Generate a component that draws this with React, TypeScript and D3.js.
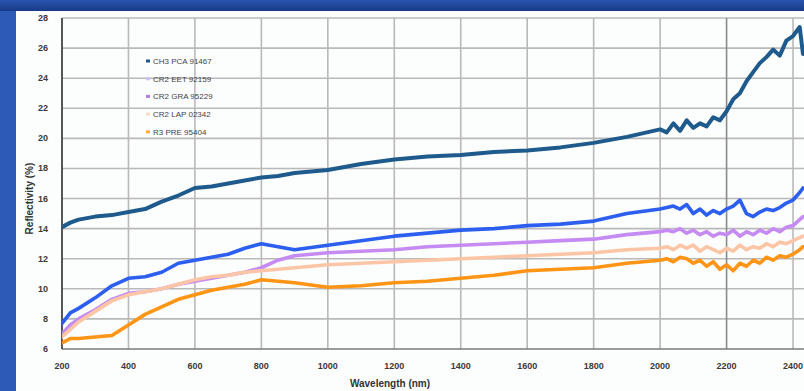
import * as d3 from "d3";

const wavelengths = [
  200, 225, 250, 300, 350, 400, 450, 500, 550, 600, 650, 700, 750, 800, 850, 900,
  1000, 1100, 1200, 1300, 1400, 1500, 1600, 1700, 1800, 1900, 2000,
  2020, 2040, 2060, 2080, 2100, 2120, 2140, 2160, 2180, 2200, 2220, 2240, 2260,
  2280, 2300, 2320, 2340, 2360, 2380, 2400, 2420, 2430,
];

const ch3Pca = [
  14.1, 14.4, 14.6, 14.8, 14.9, 15.1, 15.3, 15.8, 16.2, 16.7, 16.8, 17.0, 17.2, 17.4, 17.5, 17.7,
  17.9, 18.3, 18.6, 18.8, 18.9, 19.1, 19.2, 19.4, 19.7, 20.1, 20.6,
  20.4, 21.0, 20.5, 21.2, 20.7, 21.0, 20.8, 21.4, 21.2, 21.8, 22.6, 23.0, 23.8,
  24.4, 25.0, 25.4, 25.9, 25.5, 26.5, 26.8, 27.4, 25.6,
];
const cr2Eet = [
  7.7, 8.4, 8.7, 9.4, 10.2, 10.7, 10.8, 11.1, 11.7, 11.9, 12.1, 12.3, 12.7, 13.0, 12.8, 12.6,
  12.9, 13.2, 13.5, 13.7, 13.9, 14.0, 14.2, 14.3, 14.5, 15.0, 15.3,
  15.4, 15.5, 15.3, 15.6, 15.0, 15.3, 14.9, 15.2, 15.0, 15.3, 15.5, 15.9, 15.0,
  14.8, 15.1, 15.3, 15.2, 15.4, 15.7, 15.9, 16.4, 16.7,
];
const cr2Gra = [
  7.0, 7.6, 8.0, 8.6, 9.3, 9.7, 9.8, 10.0, 10.3, 10.5, 10.7, 10.9, 11.1, 11.4, 11.9, 12.2,
  12.4, 12.5, 12.6, 12.8, 12.9, 13.0, 13.1, 13.2, 13.3, 13.6, 13.8,
  13.9, 13.8, 14.0, 13.7, 13.9, 13.6, 13.8, 13.5, 13.7, 13.6, 13.9, 13.5, 13.8,
  13.6, 13.9, 13.7, 14.0, 13.8, 14.1, 14.2, 14.6, 14.8,
];
const cr2Lap = [
  6.8, 7.3, 7.8, 8.5, 9.2, 9.6, 9.8, 10.0, 10.3, 10.6, 10.8, 10.9, 11.1, 11.2, 11.3, 11.4,
  11.6, 11.7, 11.8, 11.9, 12.0, 12.1, 12.2, 12.3, 12.4, 12.6, 12.7,
  12.8, 12.6, 12.9, 12.7, 12.9, 12.5, 12.8, 12.6, 12.4, 12.7, 12.5, 12.9, 12.6,
  12.8, 12.7, 13.0, 12.8, 13.1, 13.0, 13.2, 13.4, 13.5,
];
const r3Pre = [
  6.4, 6.7, 6.7, 6.8, 6.9, 7.6, 8.3, 8.8, 9.3, 9.6, 9.9, 10.1, 10.3, 10.6, 10.5, 10.4,
  10.1, 10.2, 10.4, 10.5, 10.7, 10.9, 11.2, 11.3, 11.4, 11.7, 11.9,
  12.0, 11.8, 12.1, 12.0, 11.7, 11.9, 11.5, 11.8, 11.3, 11.6, 11.2, 11.7, 11.5,
  11.9, 11.7, 12.1, 11.9, 12.2, 12.1, 12.3, 12.6, 12.8,
];

const seriesNames = ["CH3 PCA 91467", "CR2 EET 92159", "CR2 GRA 95229", "CR2 LAP 02342", "R3 PRE 95404"];
const seriesValues = [ch3Pca, cr2Eet, cr2Gra, cr2Lap, r3Pre];
const seriesColors = ["#1f5a8c", "#2c5ff0", "#c58bf3", "#fcc6a6", "#ff9516"];
const legendMarkColors = ["#1f5a8c", "#c9c2f5", "#b07ae8", "#fbd9c6", "#ffb040"];

const xTicks = [200, 400, 600, 800, 1000, 1200, 1400, 1600, 1800, 2000, 2200, 2400];
const yTicks = [6, 8, 10, 12, 14, 16, 18, 20, 22, 24, 26, 28];

const W = 804;
const H = 391;

export default function App() {
  const x = d3.scaleLinear().domain([200, 2433]).range([62, 804]);
  const y = d3.scaleLinear().domain([6, 28]).range([349, 18]);

  const line = d3
    .line<number>()
    .x((_, i) => x(wavelengths[i]))
    .y((d) => y(d))
    .curve(d3.curveLinear);

  const font = "'Liberation Sans', Arial, sans-serif";

  return (
    <div style={{ position: "fixed", left: 0, top: 0 }}>
      <svg width={W} height={H} style={{ display: "block" }}>
        <defs>
          <clipPath id="plot">
            <rect x={62} y={10} width={742} height={340} />
          </clipPath>
          <linearGradient id="topband" x1="0" y1="0" x2="0" y2="1">
            <stop offset="0" stopColor="#2a55b0" />
            <stop offset="1" stopColor="#173a86" />
          </linearGradient>
        </defs>

        {/* slide frame */}
        <rect x={0} y={0} width={W} height={H} fill="#2c5ab6" />
        <rect x={0} y={0} width={W} height={11} fill="url(#topband)" />
        <rect x={16} y={11} width={W - 16} height={H - 11} fill="#fcfdfd" />

        {/* grid */}
        <g stroke="#b9b9b9" strokeWidth={1.6}>
          {yTicks.slice(1).map((t) => (
            <line key={"h" + t} x1={62} x2={W} y1={y(t)} y2={y(t)} />
          ))}
          {xTicks.slice(1).map((t) => (
            <line key={"v" + t} x1={x(t)} x2={x(t)} y1={18} y2={349} stroke={t === 2200 ? "#8a8a8a" : "#b9b9b9"} />
          ))}
        </g>

        {/* axes */}
        <line x1={62} x2={W} y1={349} y2={349} stroke="#7a7a7a" strokeWidth={1.5} />
        <line x1={62} x2={62} y1={18} y2={349} stroke="#444" strokeWidth={1.8} />

        {/* series */}
        <g clipPath="url(#plot)" fill="none" strokeLinejoin="round" strokeLinecap="round">
          {seriesValues.map((vals, i) => (
            <path key={seriesNames[i]} d={line(vals) || ""} stroke={seriesColors[i]} strokeWidth={i === 0 ? 4 : 3.6} />
          ))}
        </g>

        {/* y ticks */}
        <g fontFamily={font} fontSize={9} fontWeight="bold" fill="#3a3a3a" textAnchor="end">
          {yTicks.map((t) => (
            <text key={t} x={48} y={y(t) + 3}>
              {t}
            </text>
          ))}
        </g>

        {/* x ticks */}
        <g fontFamily={font} fontSize={9} fontWeight="bold" fill="#3a3a3a" textAnchor="middle">
          {xTicks.map((t) => (
            <text key={t} x={x(t)} y={369}>
              {t}
            </text>
          ))}
        </g>

        <text x={390} y={387} fontFamily={font} fontSize={10} fontWeight="bold" fill="#333" textAnchor="middle">
          Wavelength (nm)
        </text>
        <text
          transform={`translate(33, ${y(16)}) rotate(-90)`}
          fontFamily={font}
          fontSize={10}
          fontWeight="bold"
          fill="#333"
          textAnchor="middle"
        >
          Reflectivity (%)
        </text>

        {/* legend */}
        <g fontFamily={font} fontSize={8} fill="#444">
          {seriesNames.map((name, i) => (
            <g key={name} transform={`translate(148, ${61 + i * 17.7})`}>
              <rect x={-2} y={-1.5} width={4} height={3} fill={legendMarkColors[i]} />
              <text x={5} y={3}>
                {name}
              </text>
            </g>
          ))}
        </g>
      </svg>
    </div>
  );
}
